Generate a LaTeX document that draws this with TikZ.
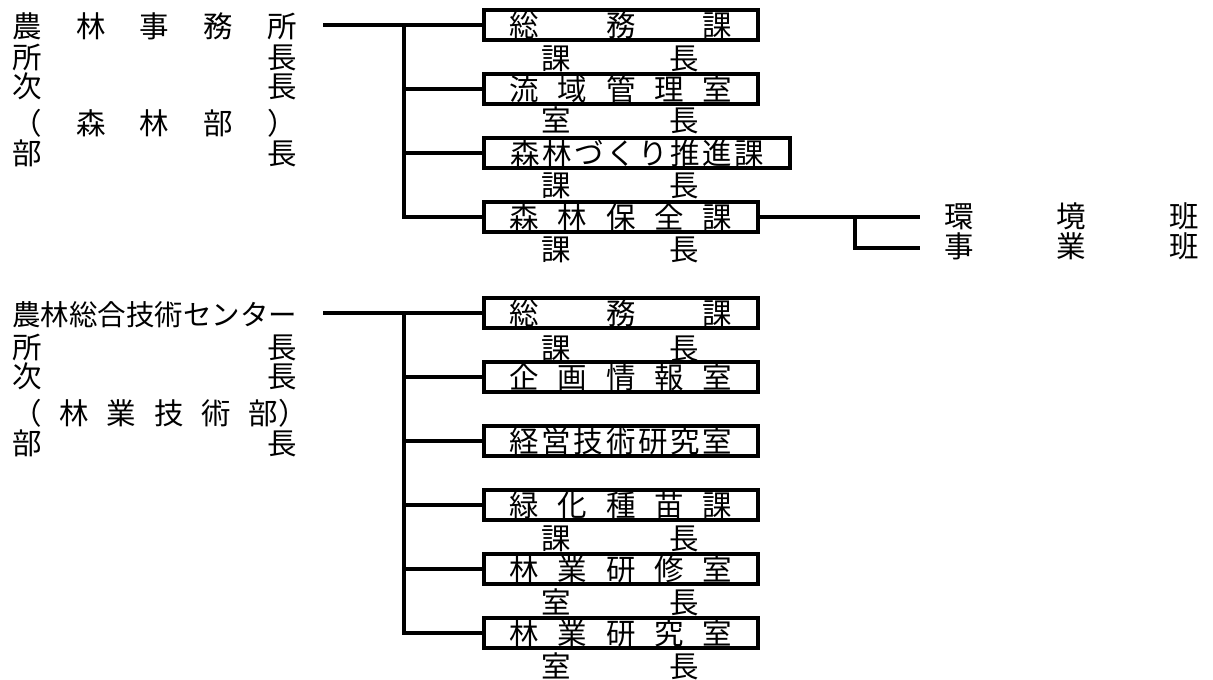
\documentclass[tikz,border=0pt]{standalone}
\usepackage{fontspec}
\usepackage{graphicx}
\newfontfamily\jp{Noto Sans CJK JP}
\newcommand\spr[2]{\makebox[#1][s]{#2}}
\tikzset{
  jpfont/.style={font=\jp\fontsize{29.5}{29.5}\selectfont},
  lbl/.style={jpfont, inner sep=0pt, anchor=west, text height=25.9pt, text depth=3.6pt},
  unitbox/.style={jpfont, draw, line width=3.3pt, inner sep=0pt, minimum width=274pt,
    minimum height=30pt, text height=25.9pt, text depth=3.6pt},
  conn/.style={line width=3.8pt, line join=miter}
}
\begin{document}
\begin{tikzpicture}[x=1pt,y=-1pt]
\useasboundingbox (0,0) rectangle (1213,680);

% ---------- top section ----------
\node[lbl] (a1) at (12,26)  {\spr{285pt}{農\hfill 林\hfill 事\hfill 務\hfill 所}};
\node[lbl] (a2) at (12,57)  {\spr{285pt}{所\hfill 長}};
\node[lbl] (a3) at (12,86)  {\spr{285pt}{次\hfill 長}};
\node[lbl] (a4) at (12,123) {\spr{285pt}{（\hfill 森\hfill 林\hfill 部\hfill ）}};
\node[lbl] (a5) at (12,153) {\spr{285pt}{部\hfill 長}};

\node[unitbox] (b1) at (621,25)  {\spr{223pt}{総\hfill 務\hfill 課}};
\node[unitbox] (b2) at (621,89)  {\spr{223pt}{流\hfill 域\hfill 管\hfill 理\hfill 室}};
\node[unitbox, minimum width=306pt] (b3) at (637,153) {\spr{254pt}{森\hfill 林\hfill づ\hfill く\hfill り\hfill 推\hfill 進\hfill 課}};
\node[unitbox] (b4) at (621,217) {\spr{223pt}{森\hfill 林\hfill 保\hfill 全\hfill 課}};

\node[lbl] (l1) at (541,58)  {\spr{158pt}{課\hfill 長}};
\node[lbl] (l2) at (541,120) {\spr{158pt}{室\hfill 長}};
\node[lbl] (l3) at (541,185) {\spr{158pt}{課\hfill 長}};
\node[lbl] (l4) at (541,249) {\spr{158pt}{課\hfill 長}};

\node[lbl] (e1) at (944,216) {\spr{255pt}{環\hfill 境\hfill 班}};
\node[lbl] (e2) at (944,246) {\spr{255pt}{事\hfill 業\hfill 班}};

\coordinate (s1) at (323,25);
\coordinate (j1) at (404,25);
\draw[conn] (s1) -- (b1.west);
\draw[conn] (j1) |- (b4.west);
\draw[conn] (j1 |- b2.west) -- (b2.west);
\draw[conn] (j1 |- b3.west) -- (b3.west);

\coordinate (k1) at (855,217);
\coordinate (k2) at (920,217);
\coordinate (k3) at (920,248);
\draw[conn] (b4.east) -- (k2);
\draw[conn] (k1) |- (k3);

% ---------- bottom section ----------
\node[lbl] (c1) at (12,314) {\resizebox{285pt}{!}{農林総合技術センター}};
\node[lbl] (c2) at (12,347) {\spr{285pt}{所\hfill 長}};
\node[lbl] (c3) at (12,376) {\spr{285pt}{次\hfill 長}};
\node[lbl] (c4) at (12,413) {\spr{266pt}{（\hfill 林\hfill 業\hfill 技\hfill 術\hfill 部}）};
\node[lbl] (c5) at (12,443) {\spr{285pt}{部\hfill 長}};

\node[unitbox] (d1) at (621,313) {\spr{223pt}{総\hfill 務\hfill 課}};
\node[unitbox] (d2) at (621,377) {\spr{223pt}{企\hfill 画\hfill 情\hfill 報\hfill 室}};
\node[unitbox] (d3) at (621,441) {\spr{223pt}{経\hfill 営\hfill 技\hfill 術\hfill 研\hfill 究\hfill 室}};
\node[unitbox] (d4) at (621,505) {\spr{223pt}{緑\hfill 化\hfill 種\hfill 苗\hfill 課}};
\node[unitbox] (d5) at (621,569) {\spr{223pt}{林\hfill 業\hfill 研\hfill 修\hfill 室}};
\node[unitbox] (d6) at (621,633) {\spr{223pt}{林\hfill 業\hfill 研\hfill 究\hfill 室}};

\node[lbl] (m1) at (541,348) {\spr{158pt}{課\hfill 長}};
\node[lbl] (m2) at (541,538) {\spr{158pt}{課\hfill 長}};
\node[lbl] (m3) at (541,602) {\spr{158pt}{室\hfill 長}};
\node[lbl] (m4) at (541,666) {\spr{158pt}{室\hfill 長}};

\coordinate (s2) at (323,313);
\coordinate (j2) at (404,313);
\draw[conn] (s2) -- (d1.west);
\draw[conn] (j2) |- (d6.west);
\draw[conn] (j2 |- d2.west) -- (d2.west);
\draw[conn] (j2 |- d3.west) -- (d3.west);
\draw[conn] (j2 |- d4.west) -- (d4.west);
\draw[conn] (j2 |- d5.west) -- (d5.west);
\end{tikzpicture}
\end{document}
